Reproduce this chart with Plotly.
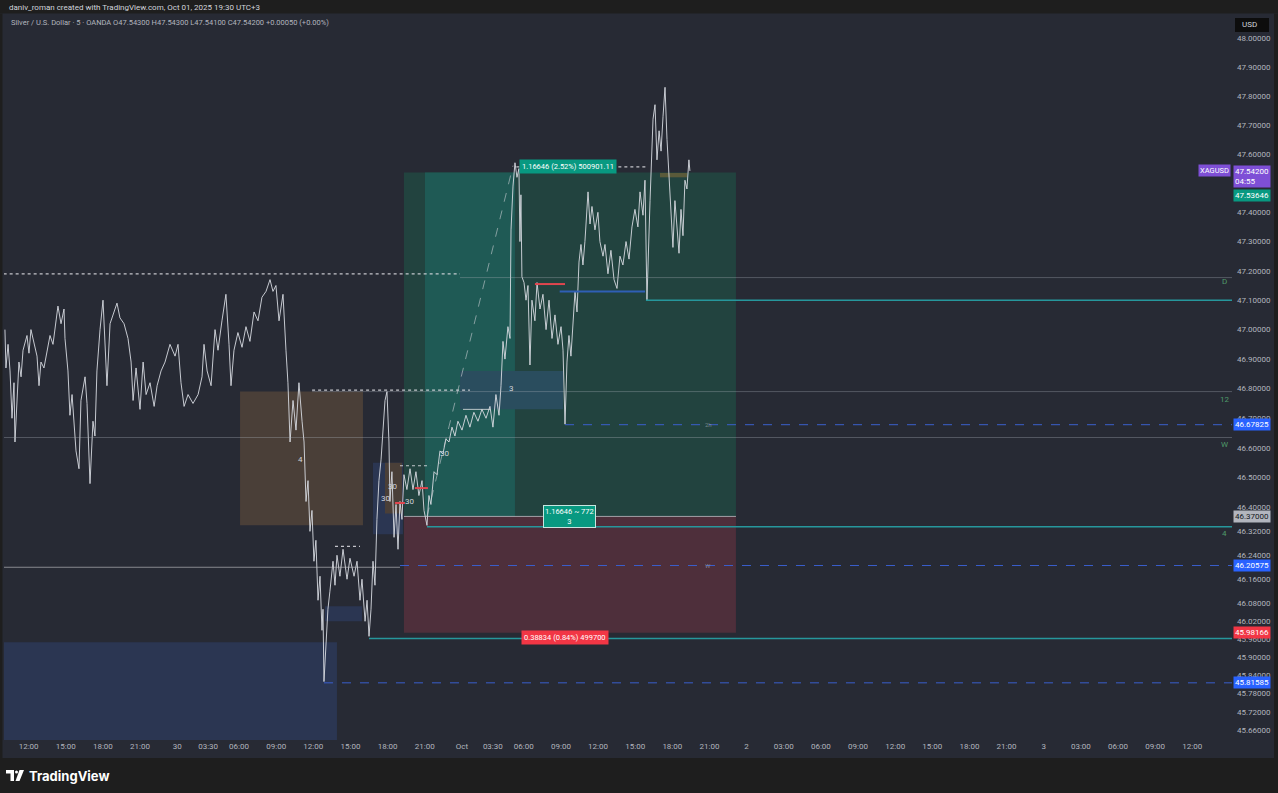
import math
import plotly.graph_objects as go

# ---------------- data ----------------
# time index: trading hours counted from Sep 29 12:00 (UTC+3), daily gap removed
t_h = [
    -1.91, -1.83, -1.66, -1.50, -1.34, -1.18, -1.10, -0.94, -0.78, -0.61,
    -0.45, -0.13, 0.03, 0.19, 0.44, 0.68, 0.84, 1.00, 1.24, 1.49,
    1.73, 1.97, 2.21, 2.37, 2.62, 2.86, 2.94, 3.18, 3.34, 3.51,
    3.83, 4.07, 4.23, 4.56, 4.72, 4.96, 5.20, 5.36, 5.52, 5.77,
    6.01, 6.17, 6.33, 6.58, 6.90, 7.14, 7.38, 7.71, 8.03, 8.28,
    8.44, 8.68, 9.00, 9.25, 9.49, 9.81, 10.14, 10.38, 10.70, 11.02,
    11.42, 11.83, 12.07, 12.31, 12.56, 12.88, 13.28, 13.69, 14.01, 14.17,
    14.42, 14.74, 15.06, 15.30, 15.62, 15.94, 16.19, 16.35,
    16.59, 16.91, 17.24, 17.56, 17.88, 18.21, 18.53, 18.85, 19.18, 19.50,
    19.74, 19.98, 20.23, 20.55, 20.79, 20.95, 21.12, 21.36, 21.60, 21.84,
    22.09, 22.25, 22.41, 22.57, 22.73, 22.89, 23.05, 23.21, 23.38, 23.54,
    23.70, 23.78, 23.86, 24.02, 24.18, 24.34, 24.59, 24.75, 24.91, 25.15,
    25.40, 25.72, 25.96, 26.29, 26.53, 26.77, 26.93, 27.18, 27.34, 27.50,
    27.66, 27.82, 27.98, 28.14, 28.30, 28.47, 28.63, 28.79, 28.95, 29.11,
    29.19, 29.35, 29.52, 29.68, 29.84, 30.00, 30.16, 30.32, 30.56, 30.81,
    31.05, 31.29, 31.53, 31.78, 31.94, 32.18,
    32.34, 32.50, 32.75, 32.99, 33.23, 33.47, 33.71, 33.96, 34.20, 34.44,
    34.68, 35.01, 35.33, 35.65, 35.97, 36.30, 36.62, 36.95, 37.27, 37.51,
    37.75, 38.00, 38.16, 38.32, 38.48, 38.72, 38.89, 38.97, 39.13, 39.29,
    39.45, 39.61, 39.69, 39.77, 39.85, 40.02, 40.18, 40.34, 40.50, 40.66,
    40.90, 41.07, 41.31, 41.55, 41.80, 42.04, 42.28, 42.52, 42.76, 43.01,
    43.17, 43.33, 43.49, 43.65, 43.81, 43.97,
    44.14, 44.30, 44.46, 44.62, 44.78, 44.94, 45.10, 45.19, 45.35, 45.51,
    45.75, 45.99, 46.15, 46.40, 46.56, 46.80, 47.04, 47.29, 47.53, 47.77,
    48.01, 48.26, 48.50, 48.74, 48.98, 49.22, 49.39, 49.63, 49.79, 49.95,
    50.20, 50.44, 50.60, 50.76, 50.93, 51.09, 51.25, 51.41, 51.57, 51.73,
    51.89, 52.05, 52.21, 52.38, 52.54, 52.70, 52.86, 53.02, 53.18, 53.34,
    53.42,
]
price = [
    47.00, 46.87, 46.95, 46.86, 46.70, 46.82, 46.62, 46.76, 46.89, 46.84,
    46.93, 46.98, 46.92, 47.00, 46.95, 46.91, 46.81, 46.89, 46.87, 46.93,
    46.98, 46.95, 47.03, 47.08, 47.02, 47.07, 46.97, 46.86, 46.71, 46.78,
    46.59, 46.53, 46.76, 46.84, 46.75, 46.48, 46.69, 46.64, 46.86, 47.00,
    47.10, 46.97, 46.81, 47.02, 47.06, 47.09, 47.04, 47.02, 46.97, 46.89,
    46.76, 46.87, 46.73, 46.89, 46.78, 46.82, 46.74, 46.81, 46.86, 46.89,
    46.95, 46.91, 46.95, 46.82, 46.74, 46.78, 46.75, 46.78, 46.84, 46.95,
    46.86, 46.81, 47.00, 46.93, 47.03, 47.12, 46.95, 46.81,
    46.93, 46.99, 46.94, 47.01, 46.96, 47.06, 47.03, 47.11, 47.13, 47.17,
    47.13, 47.15, 47.03, 47.12, 46.93, 46.82, 46.62, 46.76, 46.66, 46.82,
    46.69, 46.62, 46.42, 46.49, 46.32, 46.39, 46.22, 46.29, 46.09, 46.17,
    45.99, 46.06, 45.82, 45.96, 46.06, 46.12, 46.22, 46.14, 46.24, 46.17,
    46.26, 46.16, 46.23, 46.17, 46.22, 46.09, 46.16, 46.02, 46.09, 45.97,
    46.06, 46.22, 46.14, 46.36, 46.49, 46.56, 46.66, 46.76, 46.79, 46.62,
    46.42, 46.52, 46.30, 46.41, 46.26, 46.42, 46.36, 46.51, 46.46, 46.53,
    46.46, 46.52, 46.44, 46.49, 46.39, 46.34,
    46.44, 46.41, 46.52, 46.51, 46.59, 46.58, 46.63, 46.62, 46.67, 46.64,
    46.69, 46.66, 46.71, 46.67, 46.72, 46.69, 46.73, 46.70, 46.74, 46.67,
    46.78, 46.71, 46.81, 46.96, 46.90, 47.01, 46.97, 47.34, 47.49, 47.57,
    47.52, 47.55, 47.30, 47.46, 47.18, 47.16, 47.10, 47.15, 46.88, 47.10,
    47.03, 47.16, 47.07, 47.12, 47.00, 47.10, 46.97, 47.05, 46.95, 47.01,
    46.93, 46.68, 46.89, 46.98, 46.91, 47.03,
    47.13, 47.06, 47.23, 47.29, 47.22, 47.30, 47.44, 47.47, 47.36, 47.42,
    47.34, 47.40, 47.30, 47.25, 47.29, 47.19, 47.27, 47.17, 47.14, 47.25,
    47.22, 47.30, 47.24, 47.35, 47.41, 47.35, 47.47, 47.39, 47.51, 47.10,
    47.44, 47.72, 47.77, 47.58, 47.68, 47.61, 47.73, 47.83, 47.65, 47.51,
    47.37, 47.28, 47.44, 47.34, 47.26, 47.41, 47.32, 47.51, 47.48, 47.58,
    47.542,
]

time_tick_h = [0, 3, 6, 9, 12, 14.5, 17, 20, 23, 26, 29, 32, 35, 37.5, 40, 43, 46, 49, 52, 55,
               58, 61, 64, 67, 70, 73, 76, 79, 82, 85, 88, 91, 94]
time_tick_labels = ["12:00", "15:00", "18:00", "21:00", "30", "03:30", "06:00", "09:00", "12:00",
                    "15:00", "18:00", "21:00", "Oct", "03:30", "06:00", "09:00", "12:00", "15:00",
                    "18:00", "21:00", "2", "03:00", "06:00", "09:00", "12:00", "15:00", "18:00",
                    "21:00", "3", "03:00", "06:00", "09:00", "12:00"]
price_ticks = [48.0, 47.9, 47.8, 47.7, 47.6, 47.4, 47.3, 47.2, 47.1, 47.0, 46.9, 46.8, 46.7,
               46.6, 46.5, 46.4, 46.32, 46.24, 46.16, 46.08, 46.02, 45.96, 45.90, 45.84, 45.78,
               45.72, 45.66]

# long-position drawing
pos_start_h, pos_end_h = 30.32, 57.14
pos_fill_start_h, pos_fill_end_h = 32.02, 39.29
entry_price, target_price, stop_price = 46.37, 47.53646, 45.98166
target_text = "1.16646 (2.52%) 500901.11"
entry_text = "1.16646 ~ 772<br>3"
stop_text = "0.38834 (0.84%) 499700"
label_h = 43.6

# zones: (start_h, end_h, low, high, kind)
zones = [
    (17.08, 27.01, 46.34, 46.79, "brown"),
    (-2.5, 24.91, 45.50, 45.95, "blue"),
    (23.94, 26.93, 46.02, 46.07, "blue"),
    (27.82, 30.24, 46.31, 46.55, "blue"),
    (28.79, 30.16, 46.38, 46.55, "brown"),
    (34.85, 43.17, 46.73, 46.86, "bluemid"),
    (51.0, 53.2, 47.52, 47.535, "gold"),
]
# horizontal levels to the right edge: (start_h, price, kind)
levels = [
    (32.18, 46.335, "teal"),
    (27.50, 45.963, "teal"),
    (49.87, 47.10, "teal"),
    (43.33, 46.67825, "bluedash"),
    (30.00, 46.20575, "bluedash"),
    (23.86, 45.81585, "bluedash"),
    (34.85, 47.177, "faint"),
    (22.90, 46.79, "faint"),
    (-2.5, 46.635, "faint"),
]
# short segments: (h0, h1, price, kind)
segments = [
    (-2.5, 34.85, 47.19, "dot"),
    (22.90, 35.65, 46.795, "dot"),
    (30.00, 32.43, 46.54, "dot"),
    (24.75, 26.77, 46.27, "dot"),
    (39.40, 50.00, 47.556, "dot"),
    (-2.5, 30.00, 46.20, "gray"),
    (40.90, 43.33, 47.155, "red"),
    (29.60, 30.40, 46.415, "red"),
    (31.20, 32.26, 46.465, "red"),
    (42.90, 49.80, 47.13, "blue"),
    (35.09, 37.27, 46.73, "white"),
]
level_tags = [("D", 47.165), ("12", 46.765), ("W", 46.61), ("4", 46.313)]
chart_texts = [("4", 21.93, 46.56), ("3", 38.97, 46.80), ("30", 29.43, 46.47),
               ("30", 28.79, 46.43), ("30", 30.73, 46.42), ("30", 33.63, 46.58),
               ("2h", 54.9, 46.678), ("W", 54.9, 46.206)]
# price-scale labels: (text, price, bg, fg, yshift)
axis_labels = [
    ("47.54200<br>04:55", 47.542, "#7e4fd6", "#ffffff", -5.5),
    ("47.53646", 47.53646, "#089981", "#ffffff", -23),
    ("46.67825", 46.67825, "#2962ff", "#ffffff", 0),
    ("46.37000", 46.37, "#b2b5be", "#131722", 0),
    ("46.20575", 46.20575, "#2962ff", "#ffffff", 0),
    ("45.98166", 45.98166, "#f23645", "#ffffff", 0),
    ("45.81585", 45.81585, "#2962ff", "#ffffff", 0),
]

# ---------------- layout constants ----------------
W, H = 1278, 793
L, R, T, B = 4, 46, 14, 53
x_range = [-1.987, 97.21]
y_lo, y_hi = 45.627, 48.084
BG = "#272a34"
DARK = "#1e1e1e"
TXT = "#b2b5be"
FONT = "Roboto"

def lg(p):
    return math.log10(p)

def px(xp):
    return (xp - L) / (W - L - R)

def py(yp):
    return (H - B - yp) / (H - T - B)

zone_colors = {"brown": "#4a3f38", "blue": "#2b3652", "bluemid": "#2a4d5e", "gold": "#5a5a3a"}
level_style = {
    "teal": dict(color="#26979c", width=1.5, dash="solid"),
    "bluedash": dict(color="#3a5fcc", width=1, dash="dash"),
    "faint": dict(color="rgba(170,175,185,0.35)", width=1, dash="solid"),
}
seg_style = {
    "dot": dict(color="rgba(225,225,230,0.85)", width=1.2, dash="dot"),
    "gray": dict(color="rgba(200,200,205,0.6)", width=1, dash="solid"),
    "red": dict(color="#e0464e", width=2, dash="solid"),
    "blue": dict(color="#2f5fb5", width=2, dash="solid"),
    "white": dict(color="rgba(225,225,230,0.8)", width=1, dash="solid"),
}

fig = go.Figure()
shapes = []

# long position areas
shapes.append(dict(type="rect", xref="x", yref="y", x0=pos_start_h, x1=pos_end_h,
                   y0=entry_price, y1=target_price, fillcolor="#22433f", line_width=0, layer="below"))
shapes.append(dict(type="rect", xref="x", yref="y", x0=pos_fill_start_h, x1=pos_fill_end_h,
                   y0=entry_price, y1=target_price, fillcolor="#1f5a55", line_width=0, layer="below"))
shapes.append(dict(type="rect", xref="x", yref="y", x0=pos_start_h, x1=pos_end_h,
                   y0=stop_price, y1=entry_price, fillcolor="#4e2f3b", line_width=0, layer="below"))
for z0, z1, lo, hi, kind in zones:
    shapes.append(dict(type="rect", xref="x", yref="y", x0=z0, x1=z1, y0=lo, y1=hi,
                       fillcolor=zone_colors[kind], line_width=0, layer="below"))
shapes.append(dict(type="line", xref="x", yref="y", x0=pos_start_h, x1=pos_end_h,
                   y0=entry_price, y1=entry_price, line=dict(color="rgba(210,210,215,0.7)", width=1)))
for h0, p, kind in levels:
    shapes.append(dict(type="line", xref="x", yref="y", x0=h0, x1=x_range[1], y0=p, y1=p,
                       line=level_style[kind]))
for h0, h1, p, kind in segments:
    shapes.append(dict(type="line", xref="x", yref="y", x0=h0, x1=h1, y0=p, y1=p,
                       line=seg_style[kind]))
# dashed projection line of the position
shapes.append(dict(type="line", xref="x", yref="y", x0=32.18, x1=39.13, y0=46.37, y1=47.56,
                   line=dict(color="rgba(200,205,210,0.6)", width=1, dash="dash")))

# header / footer strips & borders (decoration)
shapes.append(dict(type="rect", xref="paper", yref="paper", x0=px(-5), x1=px(W + 5),
                   y0=py(13.5), y1=py(-2), fillcolor=DARK, line_width=0))
shapes.append(dict(type="rect", xref="paper", yref="paper", x0=px(-5), x1=px(W + 5),
                   y0=py(H + 5), y1=py(758), fillcolor=DARK, line_width=0))
shapes.append(dict(type="rect", xref="paper", yref="paper", x0=px(-5), x1=px(2.5),
                   y0=py(758), y1=py(13.5), fillcolor=DARK, line_width=0))
shapes.append(dict(type="rect", xref="paper", yref="paper", x0=px(1274), x1=px(W + 5),
                   y0=py(758), y1=py(13.5), fillcolor=DARK, line_width=0))
# TradingView logo glyph
shapes.append(dict(type="path", xref="paper", yref="paper",
                   path=f"M {px(6)},{py(770)} L {px(14)},{py(770)} L {px(14)},{py(781)} L {px(10.5)},{py(781)} "
                        f"L {px(10.5)},{py(773.5)} L {px(6)},{py(773.5)} Z",
                   fillcolor="#ffffff", line_width=0))
shapes.append(dict(type="circle", xref="paper", yref="paper", x0=px(15), x1=px(18),
                   y0=py(773.5), y1=py(770.5), fillcolor="#ffffff", line_width=0))
shapes.append(dict(type="path", xref="paper", yref="paper",
                   path=f"M {px(19.5)},{py(770)} L {px(24)},{py(770)} L {px(19.5)},{py(781)} L {px(15.5)},{py(781)} Z",
                   fillcolor="#ffffff", line_width=0))
# USD box
shapes.append(dict(type="rect", xref="paper", yref="paper", x0=px(1235), x1=px(1269),
                   y0=py(32), y1=py(18), fillcolor="#0d0d0d", line_width=0))

fig.add_trace(go.Scatter(x=t_h, y=price, mode="lines",
                         line=dict(color="rgba(215,218,225,0.9)", width=1),
                         hoverinfo="skip", showlegend=False))

ann = []
def A(**kw):
    base = dict(showarrow=False, font=dict(family=FONT, size=8, color=TXT))
    base.update(kw)
    ann.append(base)

A(text="daniv_roman created with TradingView.com, Oct 01, 2025 19:30 UTC+3", xref="paper", yref="paper",
  x=px(7), y=py(7), xanchor="left", yanchor="middle", font=dict(family=FONT, size=8, color="#d1d4dc"))
A(text="Silver / U.S. Dollar · 5 · OANDA O47.54300 H47.54300 L47.54100 C47.54200 +0.00050 (+0.00%)",
  xref="paper", yref="paper", x=px(9), y=py(23), xanchor="left", yanchor="middle",
  font=dict(family=FONT, size=7.5, color=TXT))
A(text="USD", xref="paper", yref="paper", x=px(1240), y=py(25), xanchor="left", yanchor="middle",
  font=dict(family=FONT, size=8, color="#d1d4dc"))
A(text="<b>TradingView</b>", xref="paper", yref="paper", x=px(27), y=py(775.5), xanchor="left",
  yanchor="middle", font=dict(family="Inter", size=13, color="#ffffff"))

# position labels
A(text=target_text, x=label_h, y=lg(target_price), yshift=6, xanchor="center", yanchor="middle",
  bgcolor="#089981", borderpad=2, font=dict(family=FONT, size=7.5, color="#ffffff"))
A(text=entry_text, x=43.73, y=lg(entry_price), xanchor="center", yanchor="middle",
  bgcolor="#089981", bordercolor="#c8e6e0", borderwidth=1, borderpad=1,
  font=dict(family=FONT, size=7.5, color="#ffffff"))
A(text=stop_text, x=43.35, y=lg(stop_price), yshift=-5, xanchor="center", yanchor="middle",
  bgcolor="#f23645", borderpad=2, font=dict(family=FONT, size=7.5, color="#ffffff"))

for txt, p in level_tags:
    A(text=txt, xref="paper", x=1, xshift=-8, y=lg(p), xanchor="center", yanchor="middle",
      font=dict(family=FONT, size=8, color="#4f9a6a"))
for txt, h, p in chart_texts:
    small = txt in ("2h", "W")
    A(text=txt, x=h, y=lg(p), xanchor="center", yanchor="middle",
      font=dict(family=FONT, size=6 if small else 8, color="rgba(160,165,175,0.7)" if small else "#d1d4dc"))

A(text="XAGUSD", xref="paper", x=1, xshift=-1, y=lg(47.542), yshift=0, xanchor="right", yanchor="middle",
  bgcolor="#7e4fd6", borderpad=1, font=dict(family=FONT, size=7.5, color="#ffffff"))
for txt, p, bg, fg, ys in axis_labels:
    A(text=txt, xref="paper", x=1, xshift=1, y=lg(p), yshift=ys, xanchor="left", yanchor="middle",
      bgcolor=bg, borderpad=1, align="left", font=dict(family=FONT, size=8, color=fg))

fig.update_layout(
    width=W, height=H,
    margin=dict(l=L, r=R, t=T, b=B, pad=0),
    paper_bgcolor=BG, plot_bgcolor=BG,
    shapes=shapes, annotations=ann,
    showlegend=False,
    xaxis=dict(range=x_range, showgrid=False, zeroline=False, showline=False,
               tickmode="array", tickvals=time_tick_h, ticktext=time_tick_labels,
               ticks="", tickfont=dict(family=FONT, size=8, color=TXT), fixedrange=True),
    yaxis=dict(type="log", range=[lg(y_lo), lg(y_hi)], side="right", showgrid=False,
               zeroline=False, showline=False, tickmode="array", tickvals=price_ticks,
               ticktext=[f"{v:.5f}" for v in price_ticks], ticks="", ticklabelstandoff=4,
               tickfont=dict(family=FONT, size=8, color=TXT), fixedrange=True),
)

fig.write_html("out.html", config={"displayModeBar": False},
               post_script="document.body.style.margin='0px';document.body.style.overflow='hidden';")
